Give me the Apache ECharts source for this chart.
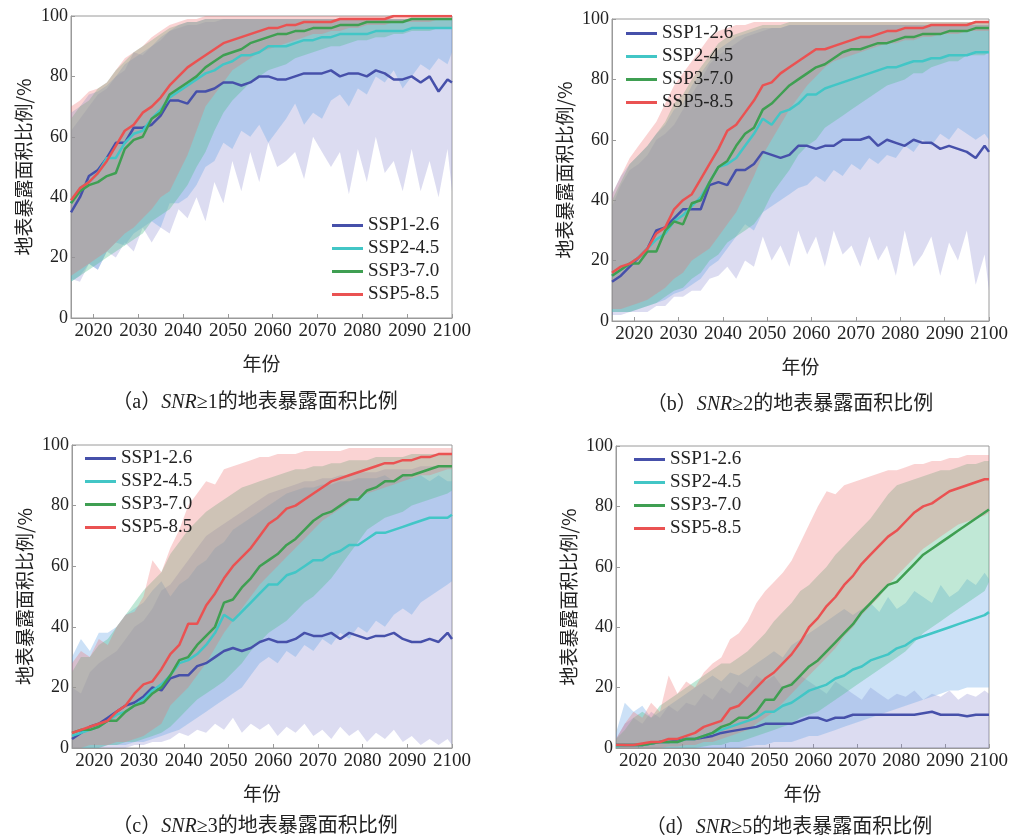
<!DOCTYPE html>
<html>
<head>
<meta charset="utf-8">
<title>地表暴露面积比例</title>
<script src="https://cdn.jsdelivr.net/npm/echarts@6/dist/echarts.min.js"></script>
<style>
  html, body {margin: 0; padding: 0; background: #fff;}
  #chart {width: 1011px; height: 839px;}
</style>
</head>
<body>
<div id="chart"></div>
<script>
// sampled every 2 years, plus 2100
const years = [2015, 2017, 2019, 2021, 2023, 2025, 2027, 2029, 2031, 2033, 2035,
  2037, 2039, 2041, 2043, 2045, 2047, 2049, 2051, 2053, 2055, 2057,
  2059, 2061, 2063, 2065, 2067, 2069, 2071, 2073, 2075, 2077, 2079,
  2081, 2083, 2085, 2087, 2089, 2091, 2093, 2095, 2097, 2099, 2100];
const xTicks = [2020, 2030, 2040, 2050, 2060, 2070, 2080, 2090, 2100];
const scenarios = ['SSP1-2.6', 'SSP2-4.5', 'SSP3-7.0', 'SSP5-8.5'];

// (a) SNR>=1
const a126 = [35, 40, 47, 49, 53, 58, 58, 63, 63, 64, 67, 72, 72, 71, 75, 75, 76, 78, 78, 77, 78, 80, 80, 79, 79, 80, 81, 81, 81, 82, 80, 81, 81, 80, 82, 81, 79, 79, 80, 78, 80, 75, 79, 78];
const a126Lo = [13, 12, 18, 16, 22, 20, 25, 22, 30, 25, 30, 28, 36, 33, 40, 32, 45, 38, 52, 42, 55, 45, 58, 50, 52, 55, 46, 60, 55, 50, 55, 41, 56, 45, 60, 48, 52, 42, 56, 42, 52, 40, 56, 42];
const a126Hi = [62, 66, 70, 74, 76, 80, 82, 88, 87, 90, 92, 95, 96, 97, 97, 98, 98, 99, 99, 99, 99, 99, 99, 99, 99, 99, 99, 99, 99, 99, 99, 99, 99, 99, 99, 99, 99, 99, 99, 99, 99, 99, 99, 99];
const a245 = [38, 43, 45, 48, 53, 53, 58, 61, 62, 66, 69, 73, 75, 77, 79, 81, 82, 84, 85, 87, 87, 88, 90, 90, 90, 91, 92, 92, 93, 93, 94, 94, 94, 94, 95, 95, 95, 95, 96, 96, 96, 96, 96, 96];
const a245Lo = [12, 14, 18, 16, 22, 25, 24, 28, 30, 32, 30, 38, 38, 40, 44, 50, 52, 58, 56, 62, 60, 64, 58, 62, 66, 71, 64, 68, 66, 72, 74, 70, 76, 74, 80, 78, 82, 76, 80, 84, 82, 86, 84, 88];
const a245Hi = [68, 70, 74, 75, 77, 80, 84, 86, 88, 90, 93, 95, 97, 98, 98, 99, 99, 99, 99, 99, 99, 99, 99, 99, 99, 99, 99, 99, 99, 99, 99, 99, 99, 99, 99, 99, 99, 99, 99, 99, 99, 99, 99, 99];
const a370 = [38, 42, 44, 45, 47, 48, 56, 59, 60, 66, 68, 74, 76, 78, 80, 83, 85, 87, 88, 89, 91, 92, 93, 94, 94, 95, 95, 96, 96, 96, 97, 97, 97, 98, 98, 98, 98, 98, 99, 99, 99, 99, 99, 99];
const a370Lo = [12, 14, 16, 18, 20, 22, 24, 26, 28, 32, 34, 36, 40, 44, 50, 55, 62, 68, 72, 75, 78, 80, 82, 83, 84, 86, 87, 88, 89, 90, 90, 91, 92, 92, 93, 93, 94, 94, 95, 95, 95, 96, 96, 96];
const a370Hi = [66, 70, 72, 76, 78, 82, 85, 88, 90, 92, 94, 96, 97, 98, 98, 99, 99, 99, 99, 99, 99, 99, 99, 99, 99, 99, 99, 99, 99, 99, 99, 99, 99, 99, 99, 99, 99, 99, 99, 99, 99, 99, 99, 99];
const a585 = [39, 43, 45, 48, 52, 57, 62, 64, 68, 70, 73, 77, 80, 83, 85, 87, 89, 91, 92, 93, 94, 95, 96, 96, 97, 97, 98, 98, 98, 98, 99, 99, 99, 99, 99, 99, 100, 100, 100, 100, 100, 100, 100, 100];
const a585Lo = [14, 16, 18, 20, 22, 25, 28, 30, 33, 36, 40, 42, 48, 54, 62, 70, 74, 78, 82, 84, 86, 88, 89, 90, 91, 92, 93, 94, 94, 95, 95, 96, 96, 97, 97, 97, 98, 98, 98, 98, 98, 99, 99, 99];
const a585Hi = [70, 72, 75, 76, 78, 82, 86, 88, 90, 93, 95, 97, 98, 99, 99, 100, 100, 100, 100, 100, 100, 100, 100, 100, 100, 100, 100, 100, 100, 100, 100, 100, 100, 100, 100, 100, 100, 100, 100, 100, 100, 100, 100, 100];

// (b) SNR>=2
const b126 = [13, 15, 18, 21, 24, 30, 31, 34, 37, 37, 37, 45, 46, 45, 50, 50, 52, 56, 55, 54, 55, 58, 58, 57, 58, 58, 60, 60, 60, 61, 58, 60, 59, 58, 60, 59, 59, 57, 58, 57, 56, 54, 58, 56];
const b126Lo = [2, 2, 3, 3, 3, 5, 5, 8, 8, 10, 10, 14, 15, 18, 14, 20, 18, 28, 20, 25, 18, 30, 22, 28, 18, 30, 22, 25, 18, 28, 20, 25, 15, 30, 18, 22, 28, 15, 26, 20, 30, 12, 22, 10];
const b126Hi = [38, 45, 50, 52, 55, 60, 62, 65, 70, 75, 80, 85, 88, 90, 92, 94, 95, 96, 97, 97, 98, 98, 98, 98, 98, 98, 98, 98, 98, 98, 98, 98, 98, 98, 98, 98, 98, 98, 98, 98, 98, 98, 98, 98];
const b245 = [15, 17, 19, 21, 24, 27, 29, 33, 35, 38, 41, 46, 51, 52, 54, 58, 62, 67, 65, 69, 70, 72, 75, 75, 77, 78, 79, 80, 81, 82, 83, 84, 84, 85, 86, 86, 87, 87, 88, 88, 88, 89, 89, 89];
const b245Lo = [3, 3, 3, 4, 5, 6, 7, 9, 10, 12, 14, 18, 20, 24, 28, 32, 30, 36, 38, 40, 42, 44, 45, 48, 46, 50, 48, 52, 50, 54, 52, 55, 54, 58, 56, 60, 58, 62, 60, 64, 62, 60, 62, 60];
const b245Hi = [42, 48, 52, 55, 58, 62, 65, 70, 72, 78, 82, 86, 90, 92, 94, 95, 96, 97, 97, 97, 98, 98, 98, 98, 98, 98, 98, 98, 98, 98, 98, 98, 98, 98, 98, 98, 98, 98, 98, 98, 98, 98, 98, 98];
const b370 = [15, 17, 19, 19, 23, 23, 30, 33, 32, 39, 40, 46, 51, 53, 58, 62, 64, 70, 72, 75, 78, 80, 82, 84, 85, 87, 89, 90, 90, 91, 92, 92, 93, 94, 94, 95, 95, 95, 96, 96, 96, 97, 97, 97];
const b370Lo = [3, 3, 3, 4, 5, 6, 8, 10, 11, 14, 16, 20, 22, 26, 28, 30, 32, 36, 42, 46, 50, 55, 58, 60, 64, 66, 68, 70, 72, 74, 76, 78, 79, 80, 82, 82, 84, 85, 86, 86, 88, 88, 88, 89];
const b370Hi = [40, 46, 52, 55, 58, 62, 66, 72, 75, 80, 84, 88, 92, 94, 95, 96, 97, 98, 98, 98, 99, 99, 99, 99, 99, 99, 99, 99, 99, 99, 99, 99, 99, 99, 99, 99, 99, 99, 99, 99, 99, 99, 99, 99];
const b585 = [16, 18, 19, 21, 24, 29, 31, 37, 40, 42, 47, 52, 57, 63, 65, 69, 73, 78, 79, 82, 84, 86, 88, 90, 90, 91, 92, 93, 94, 94, 95, 96, 96, 97, 97, 97, 98, 98, 98, 98, 98, 99, 99, 99];
const b585Lo = [4, 4, 5, 6, 7, 9, 11, 14, 16, 20, 22, 24, 28, 32, 36, 42, 48, 55, 60, 65, 70, 74, 78, 81, 84, 86, 87, 88, 89, 90, 91, 92, 92, 93, 93, 94, 94, 95, 95, 95, 96, 96, 96, 96];
const b585Hi = [42, 48, 54, 58, 62, 66, 72, 78, 82, 86, 90, 94, 96, 97, 98, 98, 99, 99, 99, 99, 99, 99, 99, 99, 99, 99, 99, 99, 99, 99, 99, 99, 99, 99, 99, 99, 99, 99, 99, 99, 99, 99, 99, 99];

// (c) SNR>=3
const c126 = [3, 5, 7, 8, 10, 12, 14, 15, 17, 20, 19, 23, 24, 24, 27, 28, 30, 32, 33, 32, 33, 35, 36, 35, 35, 36, 38, 37, 37, 38, 36, 38, 37, 36, 37, 37, 38, 36, 35, 35, 36, 35, 38, 36];
const c126Lo = [0, 0, 0, 0, 0, 0, 0, 1, 1, 2, 2, 3, 5, 4, 6, 5, 8, 6, 10, 5, 8, 6, 8, 4, 7, 5, 8, 4, 6, 3, 7, 4, 6, 2, 5, 3, 6, 2, 4, 1, 3, 1, 3, 1];
const c126Hi = [20, 18, 25, 28, 30, 32, 36, 40, 42, 46, 52, 54, 58, 62, 66, 70, 72, 74, 76, 78, 80, 82, 84, 85, 86, 87, 88, 88, 89, 89, 90, 90, 91, 91, 91, 92, 92, 92, 92, 93, 93, 93, 93, 93];
const c245 = [4, 5, 6, 7, 9, 11, 12, 14, 16, 19, 21, 24, 28, 29, 31, 34, 38, 44, 42, 45, 48, 51, 54, 54, 57, 58, 60, 62, 62, 64, 65, 67, 67, 69, 71, 71, 72, 73, 74, 75, 76, 76, 76, 77];
const c245Lo = [0, 0, 0, 0, 1, 1, 1, 2, 2, 3, 4, 5, 6, 8, 10, 12, 14, 16, 18, 20, 24, 28, 30, 28, 32, 30, 34, 32, 36, 34, 38, 36, 40, 38, 42, 40, 44, 46, 44, 48, 50, 52, 54, 55];
const c245Hi = [30, 36, 32, 38, 38, 40, 44, 46, 48, 52, 55, 50, 54, 56, 60, 62, 66, 68, 72, 74, 76, 78, 80, 82, 84, 85, 86, 86, 87, 87, 88, 88, 89, 89, 89, 90, 88, 90, 89, 90, 88, 90, 88, 88];
const c370 = [5, 6, 6, 7, 9, 9, 12, 14, 15, 18, 20, 24, 29, 30, 34, 37, 40, 48, 49, 53, 56, 60, 62, 64, 67, 69, 72, 75, 77, 78, 80, 82, 82, 85, 86, 88, 88, 90, 90, 91, 92, 93, 93, 93];
const c370Lo = [0, 0, 0, 0, 1, 1, 2, 2, 3, 4, 5, 7, 10, 13, 16, 18, 20, 22, 25, 28, 32, 35, 38, 40, 42, 45, 48, 50, 53, 56, 60, 64, 68, 72, 74, 76, 77, 78, 80, 81, 82, 83, 84, 85];
const c370Hi = [25, 30, 30, 34, 36, 40, 44, 48, 52, 55, 58, 64, 68, 72, 75, 78, 80, 82, 84, 86, 87, 88, 89, 90, 91, 92, 92, 93, 93, 94, 94, 95, 95, 95, 96, 96, 96, 96, 97, 97, 97, 97, 97, 97];
const c585 = [5, 6, 7, 8, 9, 12, 14, 18, 21, 22, 26, 31, 34, 41, 41, 47, 51, 56, 60, 63, 66, 70, 74, 76, 79, 80, 82, 84, 86, 88, 89, 90, 91, 92, 93, 94, 94, 95, 95, 96, 96, 97, 97, 97];
const c585Lo = [0, 0, 1, 1, 1, 2, 2, 3, 4, 6, 8, 14, 17, 20, 24, 28, 33, 38, 42, 46, 50, 54, 57, 60, 63, 66, 69, 72, 75, 77, 79, 81, 83, 84, 85, 86, 87, 88, 89, 90, 90, 91, 92, 92];
const c585Hi = [28, 32, 30, 36, 34, 40, 44, 45, 50, 62, 58, 66, 72, 80, 84, 88, 87, 92, 93, 94, 95, 96, 96, 97, 97, 97, 98, 98, 98, 98, 98, 99, 99, 99, 99, 99, 99, 99, 99, 99, 99, 99, 99, 99];

// (d) SNR>=5
const d126 = [1, 1, 1, 1, 1.5, 2, 2, 2.5, 3, 3, 3.5, 4, 5, 5.5, 6, 6.5, 7, 8, 8, 8, 8, 9, 10, 10, 9, 10, 10, 11, 11, 11, 11, 11, 11, 11, 11, 11.5, 12, 11, 11, 11, 10.5, 11, 11, 11];
const d126Lo = [0, 0, 0, 0, 0, 0, 0, 0, 0, 0, 0, 0, 0, 0, 0, 0, 0, 0, 0, 0, 0, 0, 0, 0, 0, 0, 0, 0, 0, 0, 0, 0, 0, 0, 0, 0, 0, 0, 0, 0, 0, 0, 0, 0];
const d126Hi = [3, 8, 10, 8, 12, 10, 14, 12, 15, 14, 18, 16, 20, 18, 22, 20, 24, 22, 24, 20, 22, 24, 22, 20, 18, 22, 20, 18, 16, 20, 18, 16, 18, 17, 19, 16, 18, 17, 19, 16, 18, 17, 19, 18];
const d245 = [0.5, 1, 1, 1, 1.5, 2, 2, 2, 3, 3, 4, 5, 6, 7, 8, 9, 10, 12, 12, 14, 15, 17, 19, 20, 21, 23, 24, 26, 27, 29, 30, 31, 33, 34, 36, 37, 38, 39, 40, 41, 42, 43, 44, 45];
const d245Lo = [0, 0, 0, 0, 0, 0, 0, 0, 0, 0, 0, 0, 0, 0, 0, 0.5, 1, 1, 2, 2, 2, 3, 4, 4, 5, 6, 7, 8, 9, 10, 11, 12, 13, 14, 15, 16, 17, 18, 19, 19, 20, 20, 20, 20];
const d245Hi = [5, 15, 12, 14, 10, 12, 14, 16, 18, 20, 22, 24, 22, 25, 24, 26, 28, 30, 32, 30, 34, 36, 38, 40, 42, 44, 46, 44, 46, 48, 45, 50, 46, 48, 52, 50, 48, 54, 50, 52, 56, 54, 58, 56];
const d370 = [1, 1, 1, 1, 1.5, 2, 2, 2, 3, 3, 4, 5, 7, 8, 10, 10, 12, 16, 16, 20, 21, 24, 27, 29, 32, 35, 38, 41, 45, 48, 51, 54, 55, 58, 61, 64, 66, 68, 70, 72, 74, 76, 78, 79];
const d370Lo = [0, 0, 0, 0, 0, 0, 0, 0, 0, 0, 0.5, 1, 1, 2, 2, 3, 4, 5, 6, 7, 8, 10, 11, 12, 14, 16, 18, 20, 22, 24, 26, 28, 30, 32, 35, 38, 40, 42, 44, 46, 48, 50, 52, 55];
const d370Hi = [3, 6, 10, 12, 10, 14, 16, 18, 20, 22, 24, 26, 28, 28, 30, 32, 35, 38, 42, 45, 48, 52, 54, 57, 60, 64, 67, 70, 73, 76, 80, 84, 87, 88, 89, 90, 91, 92, 92, 93, 94, 94, 95, 95];
const d585 = [1, 1, 1, 1.5, 2, 2, 3, 3, 4, 5, 7, 8, 9, 13, 14, 17, 20, 23, 25, 28, 31, 35, 40, 43, 47, 50, 54, 57, 61, 64, 67, 70, 72, 75, 78, 80, 81, 83, 85, 86, 87, 88, 89, 89];
const d585Lo = [0, 0, 0, 0, 0, 0, 0.5, 0.5, 1, 1, 2, 2, 3, 4, 5, 6, 8, 10, 12, 15, 18, 21, 24, 27, 30, 33, 37, 40, 44, 47, 50, 54, 57, 60, 63, 66, 68, 70, 72, 74, 75, 76, 77, 78];
const d585Hi = [3, 8, 12, 10, 15, 12, 24, 18, 22, 20, 25, 28, 30, 36, 38, 42, 48, 52, 55, 58, 62, 68, 74, 80, 85, 84, 87, 88, 89, 90, 91, 92, 92, 93, 94, 94, 95, 95, 96, 96, 97, 97, 97, 97];

const lineColors = ['#4650aa', '#42c6c6', '#3f9f52', '#ea5252'];
const bandColors = ['rgba(120,120,200,0.26)', 'rgba(100,165,230,0.33)', 'rgba(80,190,140,0.36)', 'rgba(240,110,110,0.3)'];

const panels = [
  {tag: 'a', snr: '1', grid: {left: 71, top: 16, width: 381, height: 302}, legend: {left: 332, top: 216},
    mean: [a126, a245, a370, a585], lo: [a126Lo, a245Lo, a370Lo, a585Lo], hi: [a126Hi, a245Hi, a370Hi, a585Hi], cap: [255, 403]},
  {tag: 'b', snr: '2', grid: {left: 612, top: 19, width: 382, height: 302}, legend: {left: 626, top: 24},
    mean: [b126, b245, b370, b585], lo: [b126Lo, b245Lo, b370Lo, b585Lo], hi: [b126Hi, b245Hi, b370Hi, b585Hi], cap: [790, 405]},
  {tag: 'c', snr: '3', grid: {left: 72, top: 445, width: 380, height: 303}, legend: {left: 85, top: 449},
    mean: [c126, c245, c370, c585], lo: [c126Lo, c245Lo, c370Lo, c585Lo], hi: [c126Hi, c245Hi, c370Hi, c585Hi], cap: [255, 827]},
  {tag: 'd', snr: '5', grid: {left: 616, top: 446, width: 380, height: 302}, legend: {left: 634, top: 450},
    mean: [d126, d245, d370, d585], lo: [d126Lo, d245Lo, d370Lo, d585Lo], hi: [d126Hi, d245Hi, d370Hi, d585Hi], cap: [789, 828]}
];

panels.forEach(function (p) {
  [].concat(p.mean, p.lo, p.hi).forEach(function (arr) {
    if (arr.length !== years.length) throw new Error('panel ' + p.tag + ' has an array of length ' + arr.length);
  });
});

function pairs(arr) {
  return years.map(function (y, i) { return [y, arr[i]]; });
}

// shaded range drawn as one polygon through the axis scales
function bandSeries(idx, lo, hi, color) {
  const pts = years.map(function (y, i) { return [y, lo[i], hi[i]]; });
  return {
    type: 'custom',
    xAxisIndex: idx,
    yAxisIndex: idx,
    silent: true,
    clip: true,
    z: 1,
    data: pts,
    encode: {x: 0, y: [1, 2]},
    renderItem: function (params, api) {
      if (params.dataIndex !== 0) return;
      const top = pts.map(function (d) { return api.coord([d[0], d[2]]); });
      const bot = pts.map(function (d) { return api.coord([d[0], d[1]]); }).reverse();
      return {type: 'polygon', shape: {points: top.concat(bot)}, style: {fill: color}};
    }
  };
}

const serif = 'Liberation Serif';
const cjk = 'Noto Sans CJK SC';

const grids = [], xAxes = [], yAxes = [], legends = [], series = [], captions = [];

panels.forEach(function (p, idx) {
  grids.push(Object.assign({show: true, borderColor: '#9a9a9a', borderWidth: 1}, p.grid));
  xAxes.push({
    type: 'value', gridIndex: idx, min: 2015, max: 2100,
    name: '年份', nameLocation: 'middle', nameGap: 36,
    nameTextStyle: {fontFamily: cjk, fontSize: 19, color: '#222'},
    axisLine: {lineStyle: {color: '#9a9a9a'}},
    axisTick: {inside: true, length: 4, customValues: xTicks, lineStyle: {color: '#9a9a9a'}},
    axisLabel: {
      customValues: xTicks, margin: 4, fontFamily: serif, fontSize: 19, color: '#222',
      formatter: function (v) { return String(v); }
    },
    splitLine: {show: false}
  });
  yAxes.push({
    type: 'value', gridIndex: idx, min: 0, max: 100, interval: 20,
    name: '地表暴露面积比例/%', nameLocation: 'middle', nameGap: 38,
    nameTextStyle: {fontFamily: cjk, fontSize: 19, color: '#222'},
    axisLine: {show: true, lineStyle: {color: '#9a9a9a'}},
    axisTick: {show: true, inside: true, length: 4, lineStyle: {color: '#9a9a9a'}},
    axisLabel: {margin: 3, fontFamily: serif, fontSize: 18, color: '#222'},
    splitLine: {show: false}
  });
  legends.push({
    data: scenarios, orient: 'vertical', left: p.legend.left, top: p.legend.top,
    padding: 0, itemGap: 4, itemWidth: 31, itemHeight: 3, icon: 'rect',
    textStyle: {fontFamily: serif, fontSize: 19, color: '#222'}
  });
  p.lo.forEach(function (lo, k) {
    series.push(bandSeries(idx, lo, p.hi[k], bandColors[k]));
  });
  p.mean.forEach(function (m, k) {
    series.push({
      name: scenarios[k], type: 'line', xAxisIndex: idx, yAxisIndex: idx,
      data: pairs(m), symbol: 'none', z: 3,
      itemStyle: {color: lineColors[k]},
      lineStyle: {color: lineColors[k], width: 2.5}
    });
  });
  captions.push({
    type: 'text', x: p.cap[0], y: p.cap[1],
    style: {
      text: '（' + p.tag + '）{i|SNR}≥' + p.snr + '的地表暴露面积比例',
      align: 'center', verticalAlign: 'middle',
      fontFamily: "'Liberation Serif', 'Noto Sans CJK SC'", fontSize: 20, fill: '#222',
      rich: {i: {fontStyle: 'italic', fontFamily: serif, fontSize: 20, fill: '#222'}}
    }
  });
});

const chart = echarts.init(document.getElementById('chart'));
chart.setOption({
  animation: false,
  backgroundColor: '#fff',
  grid: grids,
  xAxis: xAxes,
  yAxis: yAxes,
  legend: legends,
  series: series,
  graphic: captions
});
</script>
</body>
</html>
